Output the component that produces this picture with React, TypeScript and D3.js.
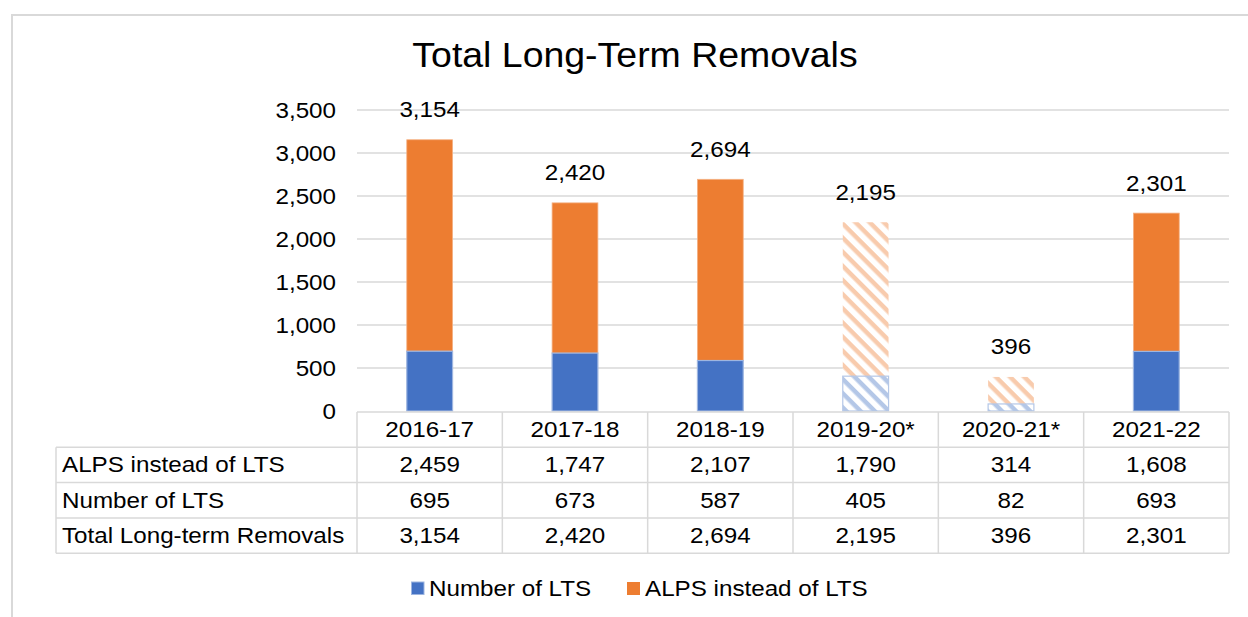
import React from "react";
import { scaleBand, scaleLinear, format } from "d3";

const categories = ["2016-17", "2017-18", "2018-19", "2019-20*", "2020-21*", "2021-22"];
const alpsValues = [2459, 1747, 2107, 1790, 314, 1608];
const ltsValues = [695, 673, 587, 405, 82, 693];
const totalValues = [3154, 2420, 2694, 2195, 396, 2301];
const provisional = [false, false, false, true, true, false];
const yTickValues = [0, 500, 1000, 1500, 2000, 2500, 3000, 3500];

const rowLabels = ["ALPS instead of LTS", "Number of LTS", "Total Long-term Removals"];
const rowSeries = [alpsValues, ltsValues, totalValues];

const BLUE = "#4472C4";
const ORANGE = "#ED7D31";
const GRID = "#D9D9D9";
const FONT = "'Liberation Sans', Arial, sans-serif";

const W = 1248;
const H = 617;
const plotLeft = 357;
const plotRight = 1229;
const plotTop = 110;
const plotBottom = 411;
const labelColLeft = 56;
const rowH = 35.3;
const SX = 1.1; // the original text is a little wider than Arial

const fmt = format(",");

// text with a slight horizontal stretch
const T = ({ x, y, size = 22, anchor = "start", sx = SX, children }: any) => (
  <text
    transform={`translate(${x},${y}) scale(${sx},1)`}
    textAnchor={anchor}
    fontSize={size}
    fill="#000"
  >
    {children}
  </text>
);

export default function App() {
  const x = scaleBand().domain(categories).range([plotLeft, plotRight]).paddingInner(0).paddingOuter(0);
  const y = scaleLinear().domain([0, 3500]).range([plotBottom, plotTop]);
  const barW = x.bandwidth() * 0.315;

  const tableTop = plotBottom + 1;
  const rowsTop = tableTop + rowH;

  return (
    <svg
      width={W}
      height={H}
      style={{ position: "absolute", left: 0, top: 0, fontFamily: FONT }}
    >
      <defs>
        <pattern id="hatchOrange" width="10" height="10" patternUnits="userSpaceOnUse" patternTransform="rotate(45)">
          <rect width="10" height="10" fill="#fff" />
          <rect width="10" height="4.5" fill="#F8CBAD" />
        </pattern>
        <pattern id="hatchBlue" width="10" height="10" patternUnits="userSpaceOnUse" patternTransform="rotate(45)">
          <rect width="10" height="10" fill="#fff" />
          <rect width="10" height="4.5" fill="#B4C7E7" />
        </pattern>
      </defs>
      <rect x={0} y={0} width={W} height={H} fill="#fff" />
      {/* outer frame */}
      <rect x={12} y={15} width={W + 20} height={H + 20} fill="none" stroke={GRID} strokeWidth={2} />

      <T x={635} y={67} size={35} anchor="middle" sx={1.07}>
        Total Long-Term Removals
      </T>

      {/* gridlines + y ticks */}
      {yTickValues.map((t) => (
        <g key={t}>
          {t > 0 && (
            <line x1={plotLeft} x2={plotRight} y1={y(t)} y2={y(t)} stroke={GRID} strokeWidth={1.5} />
          )}
          <T x={336} y={y(t) + 8} anchor="end">
            {fmt(t)}
          </T>
        </g>
      ))}

      {/* bars */}
      {categories.map((c, i) => {
        const bx = (x(c) ?? 0) + (x.bandwidth() - barW) / 2;
        const hatch = provisional[i];
        const yLts = y(ltsValues[i]);
        const yTot = y(ltsValues[i] + alpsValues[i]);
        return (
          <g key={c}>
            <rect
              x={bx}
              y={yTot}
              width={barW}
              height={yLts - yTot}
              fill={hatch ? "url(#hatchOrange)" : ORANGE}
              stroke={hatch ? "none" : "#F4B183"}
              strokeWidth={0.8}
            />
            <rect
              x={bx}
              y={yLts}
              width={barW}
              height={plotBottom - yLts}
              fill={hatch ? "url(#hatchBlue)" : BLUE}
              stroke={hatch ? "#B4C7E7" : "#9DB5E0"}
              strokeWidth={1.2}
            />
            <T x={bx + barW / 2} y={y(totalValues[i]) - 22.5} anchor="middle">
              {fmt(totalValues[i])}
            </T>
          </g>
        );
      })}

      {/* data table */}
      <g stroke={GRID} strokeWidth={1.5} fill="none">
        <line x1={plotLeft} x2={plotRight} y1={tableTop} y2={tableTop} />
        {[0, 1, 2, 3].map((r) => (
          <line key={r} x1={labelColLeft} x2={plotRight} y1={rowsTop + r * rowH} y2={rowsTop + r * rowH} />
        ))}
        <line x1={labelColLeft} x2={labelColLeft} y1={rowsTop} y2={rowsTop + 3 * rowH} />
        {categories.map((c) => (
          <line key={c} x1={x(c)} x2={x(c)} y1={tableTop} y2={rowsTop + 3 * rowH} />
        ))}
        <line x1={plotRight} x2={plotRight} y1={tableTop} y2={rowsTop + 3 * rowH} />
      </g>
      {categories.map((c) => (
        <T key={c} x={(x(c) ?? 0) + x.bandwidth() / 2} y={tableTop + rowH / 2 + 7.5} anchor="middle">
          {c}
        </T>
      ))}
      {rowLabels.map((label, r) => (
        <g key={label}>
          <T x={62} y={rowsTop + r * rowH + rowH / 2 + 7.5}>
            {label}
          </T>
          {categories.map((c, i) => (
            <T
              key={c}
              x={(x(c) ?? 0) + x.bandwidth() / 2}
              y={rowsTop + r * rowH + rowH / 2 + 7.5}
              anchor="middle"
            >
              {fmt(rowSeries[r][i])}
            </T>
          ))}
        </g>
      ))}

      {/* legend */}
      <rect x={411.5} y={582} width={12.5} height={12.5} fill={BLUE} stroke="#9DB5E0" strokeWidth={1} />
      <T x={429} y={596}>Number of LTS</T>
      <rect x={627} y={582} width={13} height={13} fill={ORANGE} />
      <T x={645} y={596}>ALPS instead of LTS</T>
    </svg>
  );
}
